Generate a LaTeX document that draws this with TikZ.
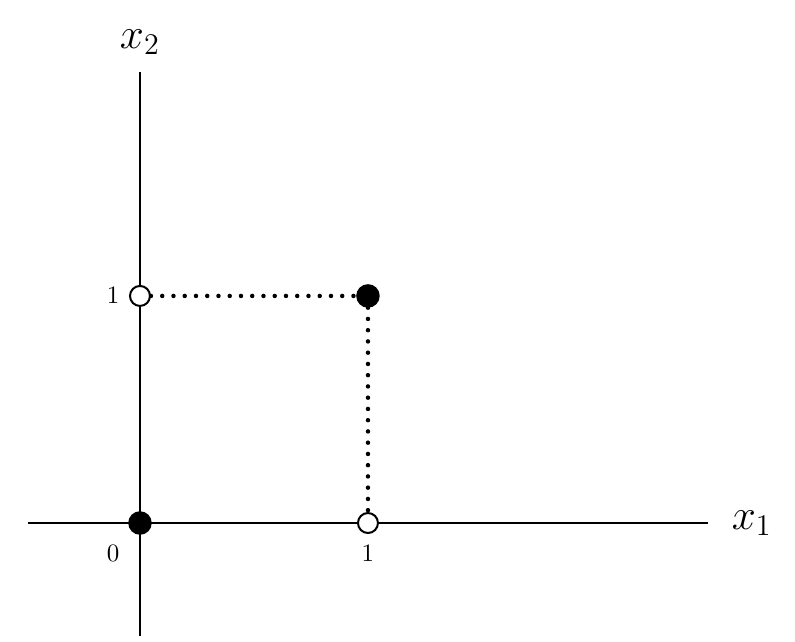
\documentclass[tikz,border=0pt]{standalone}
\usepackage{amsmath,amssymb}
\usepackage{tikz}
\usetikzlibrary{positioning}

\begin{document}
\begin{tikzpicture}[x=91.2pt,y=91.2pt]
      \tikzstyle{axis}=[black,line width=0.9pt]
      \tikzstyle{full}=[circle,draw,fill=black,line width=0.8pt,inner sep=0pt,minimum size=8.6pt]
      \tikzstyle{empty}=[circle,draw,fill=white,line width=0.8pt,inner sep=0pt,minimum size=8pt]
      \tikzstyle{dots}=[black,line width=1.8pt,dash pattern=on 0pt off 4.5pt,line cap=round]
      \useasboundingbox (-0.614,-0.518) rectangle (2.873,2.294);
      \draw [axis] (-0.491,0) coordinate (xl) -- (2.491,0) coordinate (xr);
      \draw [axis] (0,-0.496) coordinate (yb) -- (0,1.978) coordinate (yt);
      \node (lx) at (2.684,0) {\LARGE $x_1$};
      \node (ly) at (0,2.11) {\LARGE $x_2$};
      \node [full] (p00) at (0,0) {};
      \node [empty] (p10) at (1,0) {};
      \node [empty] (p01) at (0,0.996) {};
      \node [full] (p11) at (1,0.996) {};
      \node (l0) at (-0.118,-0.132) {$0$};
      \node (l1x) at (1,-0.132) {$1$};
      \node (l1y) at (-0.118,0.996) {$1$};
      \draw [dots] (p01) -- (p11);
      \draw [dots] (p11) -- (p10);
    \end{tikzpicture}
\end{document}
